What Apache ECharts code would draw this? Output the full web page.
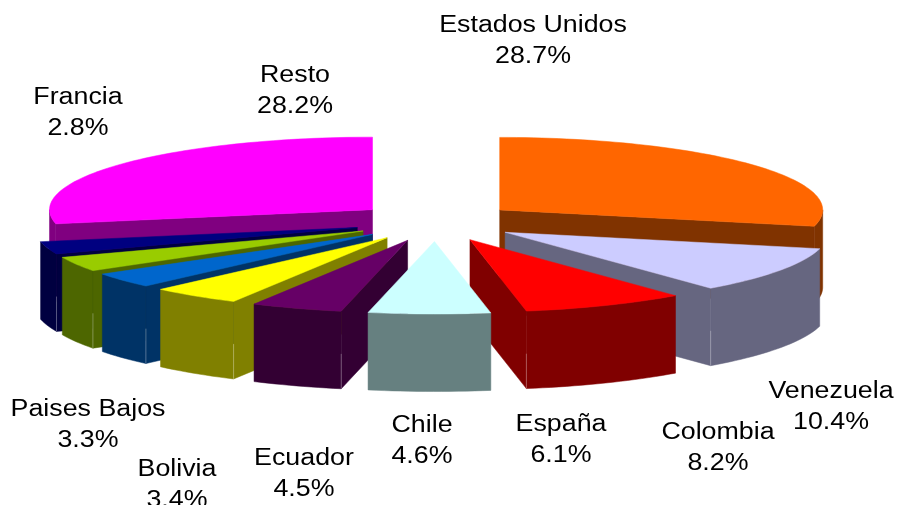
<!DOCTYPE html>
<html><head><meta charset="utf-8">
<script src="https://cdn.jsdelivr.net/npm/echarts@6/dist/echarts.min.js"></script>
<style>html,body{margin:0;padding:0;background:#fff}#c{width:897px;height:505px}</style>
</head><body><div id="c"></div>
<script>
const categories = ['Estados Unidos','Venezuela','Colombia','España','Chile','Ecuador','Bolivia','Paises Bajos','Francia','Resto'];
const shares = [28.7,10.4,8.2,6.1,4.6,4.5,3.4,3.3,2.8,28.2];
const topColors = ['#FF6600','#CCCCFF','#FF0000','#CCFFFF','#660066','#FFFF00','#0066CC','#99CC00','#000080','#FF00FF'];
const sideColors = ['#803300','#666680','#800000','#668080','#330033','#808000','#003366','#4D6600','#000040','#800080'];
// label centres (layout only)
const labelAnchors = [[533,24],[831,390],[718,431],[561,423],[422,424],[304,457],[177,468],[88,408],[78,96],[295,74]];

const CX=435.7, CY=222, RX=323, RY=72.5, DEPTH=77.5, EX=81.7, EY=19.5;
const FONT_SIZE=23, LINE=30.5, STRETCH=1.165;
const total = shares.reduce((a,b)=>a+b,0);
const rad = d=>d*Math.PI/180;
let acc=0;
const slices = shares.map((v,i)=>{
  const a=acc/total*360; acc+=v; const b=acc/total*360;
  return {i,a,b,mid:(a+b)/2};
}).sort((p,q)=>Math.cos(rad(q.mid))-Math.cos(rad(p.mid)));

function renderSlice(params, api){
  const s=slices[api.value(0)];
  const ax=CX+EX*Math.sin(rad(s.mid)), ay=CY-EY*Math.cos(rad(s.mid));
  const rim=t=>[ax+RX*Math.sin(rad(t)), ay-RY*Math.cos(rad(t))];
  const down=p=>[p[0],p[1]+DEPTH];
  const arc=(from,to)=>{const n=Math.max(2,Math.ceil((to-from)/1.5));const out=[];for(let k=0;k<=n;k++)out.push(rim(from+(to-from)*k/n));return out;};
  const top=topColors[s.i], side=sideColors[s.i];
  const poly=(pts,c)=>({type:'polygon',shape:{points:pts},style:{fill:c,stroke:c,lineWidth:0.5}});
  const kids=[];
  const apex=[ax,ay];
  const edge=(p)=>({type:'line',shape:{x1:p[0],y1:p[1]+DEPTH*0.55,x2:p[0],y2:p[1]+DEPTH},style:{stroke:'rgba(255,255,255,0.3)',lineWidth:1}});
  if(Math.sin(rad(s.a))<-1e-6){const p=rim(s.a);kids.push(poly([apex,p,down(p),down(apex)],side));}
  if(Math.sin(rad(s.b))>1e-6){const p=rim(s.b);kids.push(poly([apex,p,down(p),down(apex)],side));}
  const r0=Math.max(s.a,90), r1=Math.min(s.b,270);
  if(r1>r0){const arcPts=arc(r0,r1);kids.push(poly(arcPts.concat(arcPts.map(down).reverse()),side));
    if(s.b<270&&Math.sin(rad(s.b))>0)kids.push(edge(rim(s.b)));
    if(s.a>90&&Math.sin(rad(s.a))<0)kids.push(edge(rim(s.a)));
  }
  kids.push(poly([apex].concat(arc(s.a,s.b)),top));
  return {type:'group',children:kids};
}
function renderLabel(params, api){
  const i=api.value(0), p=labelAnchors[i];
  return {type:'group',x:p[0],y:p[1]+LINE/2+2,scaleX:STRETCH,children:[{type:'text',style:{
    text:categories[i]+'\n'+shares[i].toFixed(1)+'%',x:0,y:0,align:'center',verticalAlign:'middle',
    font:FONT_SIZE+'px "Liberation Sans"',lineHeight:LINE,fill:'#000'}}]};
}
const chart=echarts.init(document.getElementById('c'),null,{renderer:'canvas'});
chart.setOption({animation:false,backgroundColor:'#fff',
  series:[
   {type:'custom',coordinateSystem:'none',silent:true,renderItem:renderSlice,data:slices.map((s,k)=>[k,shares[s.i]])},
   {type:'custom',coordinateSystem:'none',silent:true,renderItem:renderLabel,z:5,data:categories.map((c,i)=>[i,shares[i]])}
  ]});
</script></body></html>
